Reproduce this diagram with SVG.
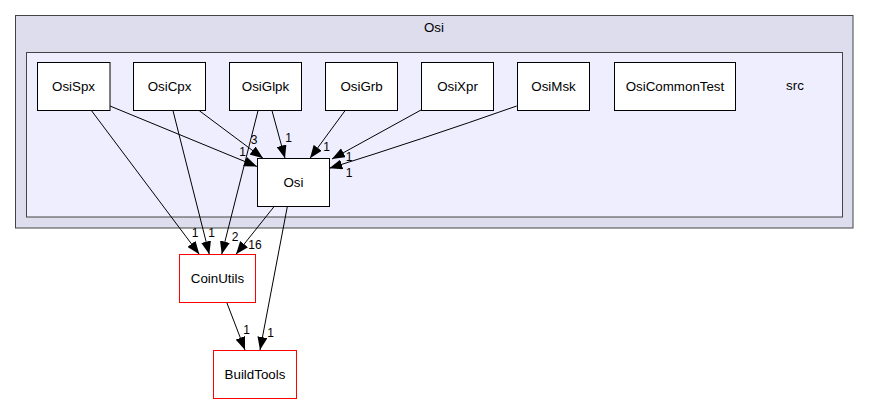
<svg xmlns="http://www.w3.org/2000/svg" width="869" height="404" viewBox="0 0 869 404">
<style>
text{font-family:"Liberation Sans",Arial,sans-serif;fill:#000}
.nl{font-size:13.33px;text-anchor:middle}
.el{font-size:12px;text-anchor:middle}
.node{fill:#fff;stroke:#000;stroke-width:1}
.red{fill:#fff;stroke:#ff0000;stroke-width:1}
.edge{fill:none;stroke:#000;stroke-width:1;marker-end:url(#arr)}
</style>
<defs>
<marker id="arr" markerUnits="userSpaceOnUse" markerWidth="13" markerHeight="10" refX="13" refY="5" orient="auto">
<path d="M0,0 L13,5 L0,10 z" fill="#000"/>
</marker>
</defs>
<rect x="0" y="0" width="869" height="404" fill="#fff"/>
<g id="cluster-osi">
<rect x="15.5" y="15.5" width="837.5" height="212.5" fill="#ddddee" stroke="#444"/>
<text class="nl" x="434" y="31.5">Osi</text>
</g>
<g id="cluster-src">
<rect x="26.5" y="52.5" width="816" height="164.5" fill="#eeeeff" stroke="#444"/>
<text class="nl" x="795" y="89.5">src</text>
</g>
<g id="connectors">
<path class="edge" d="M110,106 L257,166.5"/>
<text class="el" x="242.5" y="156">1</text>
<path class="edge" d="M91,110 L199.3,254.3"/>
<text class="el" x="195" y="237">1</text>
<path class="edge" d="M173,110.7 L209.3,254.3"/>
<text class="el" x="211.7" y="237">1</text>
<path class="edge" d="M199.3,110.7 L263,158.3"/>
<text class="el" x="254" y="143.5">3</text>
<path class="edge" d="M258,110.7 L221.7,254.3"/>
<text class="el" x="235" y="241">2</text>
<path class="edge" d="M272,110.7 L285,158.3"/>
<text class="el" x="288.5" y="142">1</text>
<path class="edge" d="M345,110.7 L310,158.3"/>
<text class="el" x="326.5" y="151">1</text>
<path class="edge" d="M421,110 L332,159"/>
<text class="el" x="349" y="160.5">1</text>
<path class="edge" d="M516.7,106 Q420,140 329.3,168.3"/>
<text class="el" x="349" y="176.5">1</text>
<path class="edge" d="M274,206.7 L236,254.3"/>
<text class="el" x="255" y="248.5">16</text>
<path class="edge" d="M287.3,206.7 L260,350"/>
<text class="el" x="270.7" y="337">1</text>
<path class="edge" d="M226.7,302.3 L245,350"/>
<text class="el" x="246.7" y="334">1</text>
</g>
<g id="node-OsiSpx"><rect class="node" x="37.5" y="62.5" width="72.5" height="48"/><text class="nl" x="73.5" y="91">OsiSpx</text></g>
<g id="node-OsiCpx"><rect class="node" x="133.5" y="62.5" width="72" height="48"/><text class="nl" x="169.5" y="91">OsiCpx</text></g>
<g id="node-OsiGlpk"><rect class="node" x="229.5" y="62.5" width="72" height="48"/><text class="nl" x="265.5" y="91">OsiGlpk</text></g>
<g id="node-OsiGrb"><rect class="node" x="325.5" y="62.5" width="72" height="48"/><text class="nl" x="361.5" y="91">OsiGrb</text></g>
<g id="node-OsiXpr"><rect class="node" x="421.5" y="62.5" width="72" height="48"/><text class="nl" x="457.5" y="91">OsiXpr</text></g>
<g id="node-OsiMsk"><rect class="node" x="517.5" y="62.5" width="72" height="48"/><text class="nl" x="553.5" y="91">OsiMsk</text></g>
<g id="node-OsiCommonTest"><rect class="node" x="614.5" y="62.5" width="121" height="48"/><text class="nl" x="675" y="91">OsiCommonTest</text></g>
<g id="node-Osi"><rect class="node" x="257.5" y="158.5" width="72" height="48"/><text class="nl" x="293.5" y="187">Osi</text></g>
<g id="node-CoinUtils"><rect class="red" x="179.5" y="254.5" width="76" height="48"/><text class="nl" x="217.5" y="283">CoinUtils</text></g>
<g id="node-BuildTools"><rect class="red" x="213.5" y="350.5" width="83" height="48"/><text class="nl" x="255" y="379">BuildTools</text></g>
</svg>
